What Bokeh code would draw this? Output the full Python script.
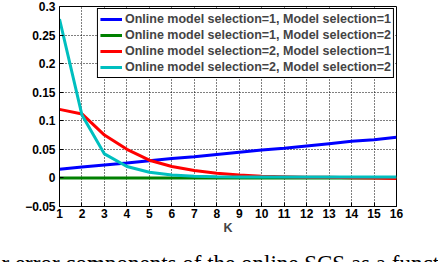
from bokeh.plotting import figure
from bokeh.models import Legend, LegendItem, Label, FixedTicker, Range1d
from bokeh.embed import file_html
from bokeh.resources import INLINE

K = list(range(1, 17))
blue_vals = [0.015, 0.019, 0.0225, 0.026, 0.030, 0.034, 0.037, 0.041, 0.045, 0.049, 0.052, 0.056, 0.060, 0.064, 0.067, 0.071]
green_vals = [0.0] * 16
red_vals = [0.120, 0.112, 0.075, 0.050, 0.031, 0.020, 0.013, 0.008, 0.005, 0.003, 0.002, 0.001, 0.001, 0.0005, 0.0, -0.001]
cyan_vals = [0.278, 0.110, 0.042, 0.020, 0.010, 0.005, 0.003, 0.002, 0.0015, 0.0015, 0.0015, 0.0015, 0.0015, 0.0015, 0.0015, 0.0015]
labels = [
    "Online model selection=1, Model selection=1",
    "Online model selection=1, Model selection=2",
    "Online model selection=2, Model selection=1",
    "Online model selection=2, Model selection=2",
]
colors = ["#0000ff", "#008000", "#ff0000", "#00bfbf"]
x_ticks = list(range(1, 17))
y_ticks = [-0.05, 0, 0.05, 0.1, 0.15, 0.2, 0.25, 0.3]
caption = "r error components of the online SCS as a function of K"

p = figure(width=438, height=262, output_backend="svg", toolbar_location=None,
           x_range=Range1d(1, 16), y_range=Range1d(-0.05, 0.3),
           min_border_left=59, min_border_right=42, min_border_top=6, min_border_bottom=0)

font = "Liberation Sans"
for ax in (p.xaxis[0], p.yaxis[0]):
    ax.major_label_text_font = font
    ax.major_label_text_font_style = "bold"
    ax.major_label_text_font_size = "12px"
    ax.major_label_text_color = "black"
    ax.axis_line_color = "black"
    ax.major_tick_line_color = "black"
    ax.major_tick_in = 4
    ax.major_tick_out = 0
    ax.minor_tick_line_color = None
p.xaxis.ticker = FixedTicker(ticks=x_ticks)
p.yaxis.ticker = FixedTicker(ticks=y_ticks)
p.yaxis.major_label_overrides = {-0.05: "\u22120.05", 0: "0", 0.05: "0.05", 0.1: "0.1", 0.15: "0.15", 0.2: "0.2", 0.25: "0.25", 0.3: "0.3"}
p.xaxis.major_label_standoff = 2
p.yaxis.major_label_standoff = 4
p.xaxis.axis_label = "K"
p.xaxis.axis_label_text_font = font
p.xaxis.axis_label_text_font_style = "bold"
p.xaxis.axis_label_text_font_size = "12.5px"
p.xaxis.axis_label_standoff = 0

p.grid.grid_line_color = "black"
p.grid.grid_line_dash = "1 2"
p.grid.grid_line_width = 1
p.outline_line_color = "black"
p.outline_line_alpha = 1

renderers = []
for vals, c in zip([blue_vals, green_vals, red_vals, cyan_vals], colors):
    r = p.line(K, vals, line_color=c, line_width=3)
    renderers.append(r)

legend = Legend(items=[LegendItem(label=l, renderers=[r]) for l, r in zip(labels, renderers)],
                location="top_right")
legend.label_text_font = font
legend.label_text_font_style = "bold"
legend.label_text_font_size = "12.5px"
legend.border_line_color = "black"
legend.border_line_alpha = 1
legend.border_line_width = 1.5
legend.background_fill_color = "white"
legend.background_fill_alpha = 1
legend.margin = 2
legend.padding = 2
legend.spacing = 0
legend.label_height = 16
legend.glyph_height = 16
legend.glyph_width = 22
legend.label_standoff = 3
p.add_layout(legend, "center")

cap = Label(x=-58, y=-1, x_units="screen", y_units="screen", text=caption,
            text_font="Liberation Serif", text_font_size="23px", text_color="black",
            text_baseline="alphabetic")
p.add_layout(cap, "below")

open("out.html", "w").write(file_html(p, INLINE))
